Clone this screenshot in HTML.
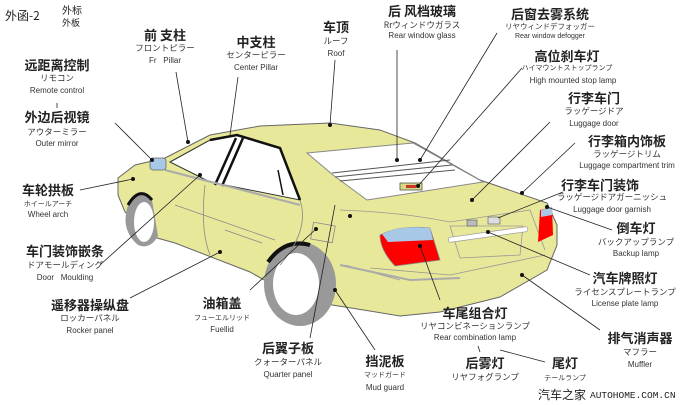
<!DOCTYPE html>
<html><head><meta charset="utf-8"><style>
html,body{margin:0;padding:0;background:#fff;}
svg{display:block}
text{font-family:"Liberation Sans","Noto Sans CJK SC",sans-serif;fill:#222}
.c{font-size:13px;font-weight:bold;font-family:"Noto Sans CJK SC",sans-serif}
.j{font-size:8.5px;font-family:"Noto Sans CJK JP",sans-serif;fill:#333}
.e{font-size:8px;fill:#333}
</style></head><body>
<svg width="690" height="405" viewBox="0 0 690 405" xmlns="http://www.w3.org/2000/svg">
<!-- body -->
<path d="M118,178 L135,165 L165,158 L210,135 L260,126 L330,123 L380,130 L415,143 L480,180 L547,203 L557,225 L557,245 L547,270 L500,297 L440,312 L400,316 L345,307 L300,300 L250,272 L175,243 L150,236 L125,212 L118,195 Z" fill="#e8e89a" stroke="#666" stroke-width="1"/>
<!-- wheels -->
<path d="M128,205 Q140,185 152,200 L158,236 Q150,250 138,245 Q120,230 128,205 Z" fill="#999"/>
<ellipse cx="144" cy="222" rx="10" ry="20" fill="#fff"/>
<path d="M128,205 Q140,185 152,200" fill="none" stroke="#111" stroke-width="3"/>
<ellipse cx="300" cy="284" rx="36" ry="42" fill="#999"/>
<ellipse cx="296" cy="284" rx="23" ry="31" fill="#fff"/>
<path d="M268,262 Q285,238 310,245" fill="none" stroke="#111" stroke-width="4"/>
<!-- side windows -->
<path d="M170,162 L210,140 L237,135 L280,148 L300,200 L210,182 Z" fill="#fff" stroke="#333" stroke-width="1"/>
<path d="M210,140 L237,135 L280,148 L300,200" fill="none" stroke="#111" stroke-width="2.5"/>
<path d="M236,138 L215,185 M243,138 L222,186" stroke="#111" stroke-width="2.5"/>
<path d="M278,170 L283,195" stroke="#111" stroke-width="1.5"/>
<path d="M165,170 L300,205" stroke="#aaa" stroke-width="2"/>
<!-- rear window -->
<path d="M307,153 L413,143 L483,182 L367,200 L333,175 Z" fill="#fff" stroke="#888" stroke-width="1"/>
<path d="M332,173 L450,160 M335,177 L452,165 M340,181 L455,170" stroke="#555" stroke-width="1"/>
<rect x="400" y="183" width="22" height="7" fill="#d8d880" stroke="#555" stroke-width="0.8"/>
<rect x="406" y="185" width="10" height="3" fill="#c33"/>
<!-- mirror -->
<rect x="150" y="158" width="16" height="12" rx="3" fill="#a8c8e8" stroke="#666" stroke-width="0.8"/>
<!-- door lines -->
<path d="M205,185 Q200,230 210,255 M300,200 Q310,230 280,265 M175,205 L275,240 M225,230 L262,243" fill="none" stroke="#888" stroke-width="0.8"/>
<rect x="312" y="224" width="22" height="17" fill="none" stroke="#888" stroke-width="0.8" transform="rotate(10 323 232)"/>
<!-- rear face -->
<path d="M340,210 Q400,212 450,222 L530,210 L545,250 M370,268 L450,275 L545,255 M345,265 L400,280" fill="none" stroke="#999" stroke-width="0.8"/>
<path d="M450,226 L523,226 L520,255 L460,258 Z" fill="none" stroke="#999" stroke-width="0.8"/>
<rect x="448" y="232" width="80" height="5" rx="2" fill="#fff" stroke="#999" stroke-width="0.7" transform="rotate(-8 488 234)"/>
<rect x="467" y="220" width="10" height="6" fill="#bbb" stroke="#555" stroke-width="0.6"/>
<rect x="488" y="217" width="12" height="7" fill="#ddd" stroke="#555" stroke-width="0.6"/>
<path d="M380,235 Q400,225 430,228 L440,260 L395,266 Q380,250 380,235 Z" fill="#f00" stroke="#888" stroke-width="0.8"/>
<path d="M382,234 Q400,225 430,228 L433,240 L388,242 Z" fill="#a8c8e8"/>
<path d="M540,210 L552,207 L553,235 L538,242 Z" fill="#f00"/>
<path d="M541,210 L552,207 L552,215 L541,217 Z" fill="#a8c8e8"/>
<path d="M340,265 L410,280 L460,278" fill="none" stroke="#aaa" stroke-width="2"/>

<!-- leader lines -->
<g stroke="#222" stroke-width="0.8" fill="none">
<path d="M115,123 L152,160"/>
<path d="M176,72 L188,142"/>
<path d="M238,77 L230,135"/>
<path d="M335,60 L330,125"/>
<path d="M397,50 L397,160"/>
<path d="M497,33 L420,160"/>
<path d="M522,68 L418,186"/>
<path d="M550,122 L472,200"/>
<path d="M575,143 L522,193"/>
<path d="M563,192 L498,218"/>
<path d="M547,207 L612,230"/>
<path d="M488,232 L590,275"/>
<path d="M522,275 L600,330"/>
<path d="M420,246 L440,300"/>
<path d="M335,205 L310,338"/>
<path d="M316,229 L250,290"/>
<path d="M200,175 L100,265"/>
<path d="M220,252 L130,298"/>
<path d="M133,179 L80,190"/>
<path d="M335,290 L375,350"/>
<path d="M478,346 L480,352"/>
<path d="M500,350 L545,362"/>
<path d="M57,103 L57,108"/>
</g>
<g fill="#111">
<circle cx="152" cy="160" r="2"/><circle cx="188" cy="142" r="2"/><circle cx="330" cy="125" r="2"/>
<circle cx="397" cy="160" r="2"/><circle cx="420" cy="160" r="2"/><circle cx="418" cy="186" r="2"/>
<circle cx="472" cy="200" r="2"/><circle cx="522" cy="193" r="2"/><circle cx="547" cy="207" r="2"/>
<circle cx="488" cy="232" r="2"/><circle cx="522" cy="275" r="2"/><circle cx="420" cy="246" r="2"/>
<circle cx="350" cy="216" r="2"/><circle cx="316" cy="229" r="2"/><circle cx="200" cy="175" r="2"/>
<circle cx="220" cy="252" r="2"/><circle cx="133" cy="179" r="2"/><circle cx="335" cy="290" r="2"/>
</g>

<!-- labels -->
<text x="5" y="20" style="font-size:12px;font-family:'Noto Sans CJK SC',sans-serif">外函-2</text>
<text x="62" y="14" style="font-size:10px;font-family:'Noto Sans CJK SC',sans-serif">外标</text>
<text x="62" y="26" style="font-size:9px;font-family:'Noto Sans CJK SC',sans-serif">外板</text>
<g text-anchor="middle">
<text class="c" x="165" y="40">前 支柱</text><text class="j" x="165" y="51">フロントピラー</text><text class="e" x="165" y="63">Fr&#160;&#160;&#160;Pillar</text>
<text class="c" x="256" y="47">中支柱</text><text class="j" x="256" y="58">センターピラー</text><text class="e" x="256" y="70">Center Pillar</text>
<text class="c" x="336" y="32">车顶</text><text class="j" x="336" y="44">ルーフ</text><text class="e" x="336" y="56">Roof</text>
<text class="c" x="57" y="70">远距离控制</text><text class="j" x="57" y="81">リモコン</text><text class="e" x="57" y="93">Remote control</text>
<text class="c" x="57" y="122">外边后视镜</text><text class="j" x="57" y="135">アウターミラー</text><text class="e" x="57" y="146">Outer mirror</text>
<text class="c" x="48" y="195">车轮拱板</text><text class="j" x="48" y="206" style="font-size:7px">ホイールアーチ</text><text class="e" x="48" y="217">Wheel arch</text>
<text class="c" x="65" y="256">车门装饰嵌条</text><text class="j" x="65" y="268">ドアモールディング</text><text class="e" x="65" y="280">Door&#160;&#160;&#160;Moulding</text>
<text class="c" x="90" y="310">遥移器操纵盘</text><text class="j" x="90" y="321">ロッカーパネル</text><text class="e" x="90" y="333">Rocker panel</text>
<text class="c" x="222" y="308">油箱盖</text><text class="j" x="222" y="320" style="font-size:7px">フューエルリッド</text><text class="e" x="222" y="332">Fuellid</text>
<text class="c" x="288" y="353">后翼子板</text><text class="j" x="288" y="365">クォーターパネル</text><text class="e" x="288" y="377">Quarter panel</text>
<text class="c" x="385" y="366">挡泥板</text><text class="j" x="385" y="377" style="font-size:7px">マッドガード</text><text class="e" x="385" y="390">Mud guard</text>
<text class="c" x="485" y="368">后雾灯</text><text class="j" x="485" y="380">リヤフォグランプ</text>
<text class="c" x="565" y="368">尾灯</text><text class="j" x="565" y="380" style="font-size:7px">テールランプ</text>
<text class="c" x="475" y="318">车尾组合灯</text><text class="j" x="475" y="329">リヤコンビネーションランプ</text><text class="e" x="475" y="340">Rear combination lamp</text>
<text class="c" x="640" y="343">排气消声器</text><text class="j" x="640" y="355">マフラー</text><text class="e" x="640" y="367">Muffler</text>
<text class="c" x="625" y="283">汽车牌照灯</text><text class="j" x="625" y="295">ライセンスプレートランプ</text><text class="e" x="625" y="306">License plate lamp</text>
<text class="c" x="636" y="233">倒车灯</text><text class="j" x="636" y="245">バックアップランプ</text><text class="e" x="636" y="256">Backup lamp</text>
<text class="c" x="422" y="16">后 风档玻璃</text><text class="j" x="422" y="28">Rrウィンドウガラス</text><text class="e" x="422" y="38">Rear window glass</text>
<text class="c" x="550" y="19">后窗去雾系统</text><text class="j" x="550" y="29" style="font-size:7.5px">リヤウィンドデフォッガー</text><text class="e" x="550" y="38" style="font-size:7px">Rear window defogger</text>
<text class="c" x="567" y="61">高位刹车灯</text><text class="j" x="567" y="70" style="font-size:7px">ハイマウントストップランプ</text><text class="e" x="573" y="83">High mounted stop lamp</text>
<text class="c" x="594" y="103">行李车门</text><text class="j" x="594" y="114">ラッゲージドア</text><text class="e" x="594" y="126">Luggage door</text>
<text class="c" x="627" y="146">行李箱内饰板</text><text class="j" x="627" y="157">ラッゲージトリム</text><text class="e" x="627" y="168">Luggage compartment trim</text>
<text class="c" x="600" y="190">行李车门装饰</text><text class="j" x="612" y="200">ラッゲージドアガーニッシュ</text><text class="e" x="612" y="212">Luggage door garnish</text>
</g>
<text x="538" y="399" style="font-size:12px;font-family:'Noto Sans CJK SC',sans-serif">汽车之家</text>
<text x="590" y="398" style="font-size:9.5px;font-family:'Liberation Mono',monospace">AUTOHOME.COM.CN</text>
</svg>
</body></html>
